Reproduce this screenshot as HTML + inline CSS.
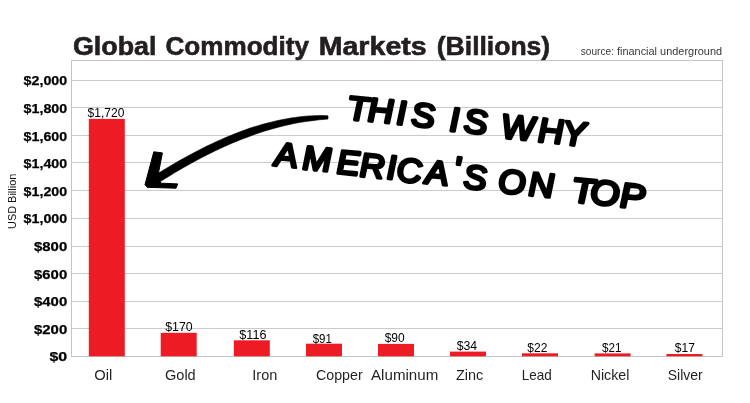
<!DOCTYPE html>
<html><head><meta charset="utf-8"><title>Global Commodity Markets (Billions)</title>
<style>
html,body{margin:0;padding:0;background:#fff;}
svg{display:block}
text{font-family:"Liberation Sans",sans-serif;}
.t{font-weight:bold;fill:#231f20;stroke:#231f20;stroke-width:0.6}
.yl{font-weight:bold;fill:#000;stroke:#000;stroke-width:0.25;font-size:13.6px;text-anchor:end}
.vl{fill:#000;font-size:12.8px}
.xl{fill:#231f20;font-size:14.4px}
.hw{font-family:"Liberation Sans",sans-serif;font-weight:normal;font-style:italic;fill:#000;stroke:#000;stroke-width:3.6;stroke-linejoin:round;stroke-linecap:round}
</style></head><body>
<svg width="750" height="403" viewBox="0 0 750 403">
<rect width="750" height="403" fill="#fff"/>

<line x1="71.8" x2="722.8" y1="328.5" y2="328.5" stroke="#c9cccd" stroke-width="1"/>
<line x1="71.8" x2="722.8" y1="301.5" y2="301.5" stroke="#c9cccd" stroke-width="1"/>
<line x1="71.8" x2="722.8" y1="273.5" y2="273.5" stroke="#c9cccd" stroke-width="1"/>
<line x1="71.8" x2="722.8" y1="246.5" y2="246.5" stroke="#c9cccd" stroke-width="1"/>
<line x1="71.8" x2="722.8" y1="218.5" y2="218.5" stroke="#c9cccd" stroke-width="1"/>
<line x1="71.8" x2="722.8" y1="190.5" y2="190.5" stroke="#c9cccd" stroke-width="1"/>
<line x1="71.8" x2="722.8" y1="162.5" y2="162.5" stroke="#c9cccd" stroke-width="1"/>
<line x1="71.8" x2="722.8" y1="135.5" y2="135.5" stroke="#c9cccd" stroke-width="1"/>
<line x1="71.8" x2="722.8" y1="107.5" y2="107.5" stroke="#c9cccd" stroke-width="1"/>
<line x1="71.8" x2="722.8" y1="80.5" y2="80.5" stroke="#c9cccd" stroke-width="1"/>
<rect x="71.5" y="60.5" width="651" height="296" fill="none" stroke="#c2c5c6" stroke-width="1"/>
<text class="yl" x="67.2" y="361.4" textLength="17.8" lengthAdjust="spacingAndGlyphs">$0</text>
<text class="yl" x="67.2" y="333.8" textLength="33.2" lengthAdjust="spacingAndGlyphs">$200</text>
<text class="yl" x="67.2" y="306.2" textLength="33.2" lengthAdjust="spacingAndGlyphs">$400</text>
<text class="yl" x="67.2" y="278.6" textLength="33.2" lengthAdjust="spacingAndGlyphs">$600</text>
<text class="yl" x="67.2" y="251.0" textLength="33.2" lengthAdjust="spacingAndGlyphs">$800</text>
<text class="yl" x="67.2" y="223.4" textLength="43.6" lengthAdjust="spacingAndGlyphs">$1,000</text>
<text class="yl" x="67.2" y="195.8" textLength="43.6" lengthAdjust="spacingAndGlyphs">$1,200</text>
<text class="yl" x="67.2" y="168.2" textLength="43.6" lengthAdjust="spacingAndGlyphs">$1,400</text>
<text class="yl" x="67.2" y="140.6" textLength="43.6" lengthAdjust="spacingAndGlyphs">$1,600</text>
<text class="yl" x="67.2" y="113.0" textLength="43.6" lengthAdjust="spacingAndGlyphs">$1,800</text>
<text class="yl" x="67.2" y="85.4" textLength="43.6" lengthAdjust="spacingAndGlyphs">$2,000</text>
<rect x="88.8" y="118.9" width="36" height="237.4" fill="#ed1c24"/>
<text class="vl" x="87.6" y="117" textLength="36.8" lengthAdjust="spacingAndGlyphs">$1,720</text>
<text class="xl" x="94.3" y="380" textLength="18" lengthAdjust="spacingAndGlyphs">Oil</text>
<rect x="160.7" y="332.8" width="36" height="23.5" fill="#ed1c24"/>
<text class="vl" x="165.2" y="331" textLength="27.5" lengthAdjust="spacingAndGlyphs">$170</text>
<text class="xl" x="165" y="380" textLength="30.7" lengthAdjust="spacingAndGlyphs">Gold</text>
<rect x="233.8" y="340.3" width="36" height="16.0" fill="#ed1c24"/>
<text class="vl" x="239.3" y="338.5" textLength="27.2" lengthAdjust="spacingAndGlyphs">$116</text>
<text class="xl" x="252.3" y="380" textLength="25" lengthAdjust="spacingAndGlyphs">Iron</text>
<rect x="306.0" y="343.7" width="36" height="12.6" fill="#ed1c24"/>
<text class="vl" x="312.7" y="342.5" textLength="19.2" lengthAdjust="spacingAndGlyphs">$91</text>
<text class="xl" x="316" y="380" textLength="46.7" lengthAdjust="spacingAndGlyphs">Copper</text>
<rect x="378.0" y="343.9" width="36" height="12.4" fill="#ed1c24"/>
<text class="vl" x="384.7" y="342.1" textLength="20" lengthAdjust="spacingAndGlyphs">$90</text>
<text class="xl" x="371" y="380" textLength="67.3" lengthAdjust="spacingAndGlyphs">Aluminum</text>
<rect x="450.0" y="351.6" width="36" height="4.7" fill="#ed1c24"/>
<text class="vl" x="456.7" y="350.3" textLength="20.5" lengthAdjust="spacingAndGlyphs">$34</text>
<text class="xl" x="456" y="380" textLength="27.3" lengthAdjust="spacingAndGlyphs">Zinc</text>
<rect x="522.0" y="353.3" width="36" height="3.0" fill="#ed1c24"/>
<text class="vl" x="527.3" y="352.4" textLength="20" lengthAdjust="spacingAndGlyphs">$22</text>
<text class="xl" x="521.7" y="380" textLength="30" lengthAdjust="spacingAndGlyphs">Lead</text>
<rect x="594.6" y="353.4" width="36" height="2.9" fill="#ed1c24"/>
<text class="vl" x="602" y="352.2" textLength="19.5" lengthAdjust="spacingAndGlyphs">$21</text>
<text class="xl" x="590.7" y="380" textLength="38.6" lengthAdjust="spacingAndGlyphs">Nickel</text>
<rect x="666.4" y="354.0" width="36" height="2.3" fill="#ed1c24"/>
<text class="vl" x="674.8" y="352.2" textLength="20" lengthAdjust="spacingAndGlyphs">$17</text>
<text class="xl" x="667.7" y="380" textLength="35" lengthAdjust="spacingAndGlyphs">Silver</text>
<text class="t" x="73" y="54.5" font-size="25.6" textLength="83.5" lengthAdjust="spacingAndGlyphs">Global</text>
<text class="t" x="165.5" y="54.5" font-size="25.6" textLength="143.5" lengthAdjust="spacingAndGlyphs">Commodity</text>
<text class="t" x="318.7" y="54.5" font-size="25.6" textLength="108" lengthAdjust="spacingAndGlyphs">Markets</text>
<text class="t" x="436.8" y="54.5" font-size="25.6" textLength="113.4" lengthAdjust="spacingAndGlyphs">(Billions)</text>
<text x="580.8" y="54.8" font-size="11.6" fill="#3a3a3a" textLength="33.2" lengthAdjust="spacingAndGlyphs">source:</text>
<text x="617.0" y="54.8" font-size="11.6" fill="#3a3a3a" textLength="40.0" lengthAdjust="spacingAndGlyphs">financial</text>
<text x="660.1" y="54.8" font-size="11.6" fill="#3a3a3a" textLength="62.0" lengthAdjust="spacingAndGlyphs">underground</text>
<text transform="translate(16.2,229) rotate(-90)" font-size="11.6" fill="#111" textLength="55.3" lengthAdjust="spacingAndGlyphs">USD Billion</text>
<path d="M328.0,119.0 L323.5,119.4 L318.9,119.8 L314.4,120.4 L309.9,121.0 L305.4,121.6 L300.9,122.3 L296.3,123.1 L291.8,124.0 L287.3,125.0 L282.8,126.1 L278.3,127.2 L273.8,128.4 L269.3,129.7 L264.7,131.1 L260.2,132.5 L255.7,134.1 L251.2,135.7 L246.7,137.4 L242.2,139.1 L237.6,140.9 L233.1,142.7 L228.5,144.7 L224.0,146.7 L219.5,148.8 L214.9,150.9 L210.4,153.2 L205.9,155.4 L201.3,157.8 L196.8,160.2 L192.2,162.7 L187.7,165.2 L183.1,167.8 L178.6,170.4 L174.0,173.1 L169.5,175.9 L164.9,178.7 L160.4,181.6 L155.8,184.5 L151.2,187.4 L146.8,180.6 L151.4,177.6 L156.0,174.7 L160.6,171.8 L165.3,169.0 L169.9,166.2 L174.5,163.5 L179.1,160.8 L183.8,158.2 L188.4,155.7 L193.0,153.2 L197.7,150.8 L202.3,148.4 L206.9,146.1 L211.6,143.9 L216.2,141.7 L220.9,139.7 L225.5,137.6 L230.1,135.7 L234.8,133.8 L239.4,132.0 L244.1,130.3 L248.7,128.6 L253.4,127.1 L258.1,125.7 L262.7,124.3 L267.4,123.1 L272.1,121.9 L276.7,120.8 L281.4,119.8 L286.1,118.9 L290.7,118.1 L295.4,117.4 L300.1,116.8 L304.7,116.3 L309.4,115.9 L314.0,115.7 L318.7,115.6 L323.3,115.6 L328.0,115.8Z" fill="#000" stroke="#000" stroke-width="0.6" stroke-linejoin="round"/>
<path d="M153.8,151.8 L162.4,152.9 L157.5,178 L161,183.2 L177.7,183.9 L176,188.2 L147.2,187.3 L145,184.7 Z" fill="#000" stroke="#000" stroke-width="1" stroke-linejoin="round"/>
<g class="hw">
<text transform="matrix(0.8845 0.0852 0.0000 0.8396 0 0)" font-size="40" x="392.53 415.77 448.35 464.92" y="102.17 101.90 102.24 102.54">THIS</text>
<text transform="matrix(0.8873 0.0854 0.0000 0.8409 0 0)" font-size="40" x="506.68 522.78" y="103.95 104.29">IS</text>
<text transform="matrix(0.8764 0.0844 0.0000 0.8511 0 0)" font-size="40" x="571.93 613.83 641.79" y="105.16 105.33 105.96">WHY</text>
<text transform="matrix(0.8654 0.0833 0.0000 0.8405 0 0)" font-size="40" x="317.24 349.43 389.14 415.70 446.84 458.40 491.37 524.43 535.53" y="165.62 166.58 167.55 168.51 167.96 169.78 169.29 162.16 170.68">AMERICA'S</text>
<text transform="matrix(0.8793 0.0847 0.0000 0.8393 0 0)" font-size="40" x="566.60 600.94" y="171.83 172.03">ON</text>
<text transform="matrix(0.9391 0.0904 0.0000 0.8658 0 0)" font-size="40" x="608.80 628.46 660.22" y="169.58 169.36 169.77">TOP</text>
</g>
</svg></body></html>
